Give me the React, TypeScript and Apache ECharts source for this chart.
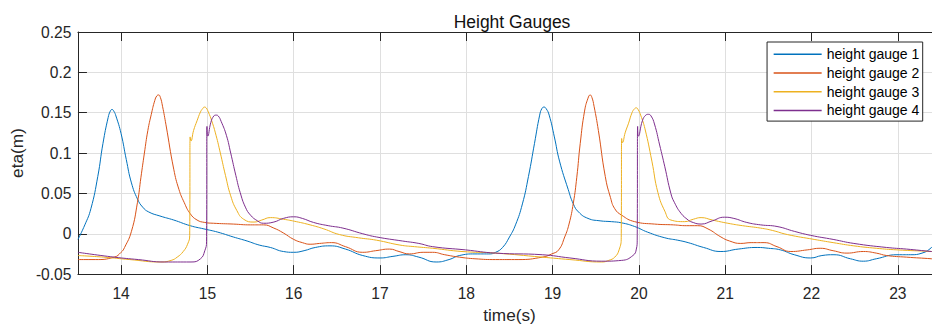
import React, { useEffect, useRef } from "react";
import * as echarts from "echarts";

const xTicks = [14, 15, 16, 17, 18, 19, 20, 21, 22, 23];
const seriesNames = ["height gauge 1", "height gauge 2", "height gauge 3", "height gauge 4"];
const colors = ["#0072BD", "#D95319", "#EDB120", "#7E2F8E"];

const g1T = [13.5, 13.58, 13.65, 13.73, 13.79, 13.85, 13.875, 13.895, 13.915, 13.94, 14.0, 14.06, 14.12, 14.19, 14.25, 14.32, 14.45, 14.61, 14.8, 14.96, 15.12, 15.3, 15.46, 15.6, 15.73, 15.88, 16.0, 16.12, 16.25, 16.42, 16.6, 16.8, 17.0, 17.15, 17.3, 17.45, 17.65, 17.8, 17.92, 18.1, 18.26, 18.34, 18.42, 18.5, 18.57, 18.65, 18.72, 18.79, 18.85, 18.875, 18.9, 18.925, 18.96, 19.02, 19.08, 19.18, 19.24, 19.3, 19.41, 19.55, 19.68, 19.8, 19.95, 20.1, 20.3, 20.45, 20.57, 20.75, 20.95, 21.15, 21.37, 21.5, 21.64, 21.8, 21.99, 22.12, 22.26, 22.45, 22.6, 22.75, 22.99, 23.15, 23.28, 23.39, 23.5];
const g1V = [-0.007, 0.011, 0.031, 0.071, 0.112, 0.144, 0.152, 0.154, 0.152, 0.146, 0.124, 0.092, 0.063, 0.043, 0.033, 0.027, 0.022, 0.017, 0.01, 0.006, 0.002, -0.004, -0.009, -0.014, -0.017, -0.022, -0.023, -0.021, -0.017, -0.015, -0.019, -0.027, -0.03, -0.028, -0.026, -0.029, -0.035, -0.032, -0.027, -0.025, -0.025, -0.023, -0.017, -0.004, 0.011, 0.037, 0.071, 0.112, 0.147, 0.155, 0.157, 0.155, 0.147, 0.12, 0.09, 0.055, 0.037, 0.027, 0.019, 0.016, 0.015, 0.0135, 0.009, 0.002, -0.005, -0.008, -0.011, -0.017, -0.022, -0.019, -0.017, -0.018, -0.02, -0.026, -0.03, -0.027, -0.026, -0.031, -0.034, -0.031, -0.026, -0.026, -0.024, -0.017, -0.004];

const g2T = [13.5, 13.7, 13.92, 14.0, 14.04, 14.12, 14.19, 14.23, 14.27, 14.31, 14.35, 14.39, 14.415, 14.435, 14.455, 14.48, 14.52, 14.61, 14.67, 14.73, 14.8, 14.88, 14.97, 15.07, 15.3, 15.5, 15.65, 15.77, 15.88, 16.0, 16.1, 16.19, 16.3, 16.44, 16.6, 16.8, 16.95, 17.11, 17.22, 17.34, 17.5, 17.61, 17.75, 17.92, 18.1, 18.34, 18.6, 18.88, 18.99, 19.07, 19.14, 19.19, 19.24, 19.28, 19.32, 19.37, 19.41, 19.435, 19.455, 19.48, 19.53, 19.61, 19.67, 19.72, 19.8, 19.95, 20.18, 20.4, 20.55, 20.68, 20.8, 20.95, 21.05, 21.18, 21.3, 21.45, 21.6, 21.76, 21.95, 22.1, 22.25, 22.41, 22.6, 22.75, 22.87, 23.1, 23.39, 23.5];
const g2V = [-0.032, -0.032, -0.029, -0.023, -0.017, 0.003, 0.039, 0.07, 0.1, 0.128, 0.148, 0.165, 0.171, 0.172, 0.169, 0.158, 0.135, 0.08, 0.055, 0.039, 0.025, 0.017, 0.014, 0.013, 0.012, 0.011, 0.011, 0.007, 0.001, -0.007, -0.011, -0.013, -0.012, -0.011, -0.016, -0.023, -0.021, -0.019, -0.022, -0.025, -0.023, -0.023, -0.026, -0.029, -0.031, -0.032, -0.032, -0.029, -0.025, -0.02, -0.004, 0.012, 0.038, 0.07, 0.112, 0.152, 0.168, 0.172, 0.169, 0.158, 0.128, 0.071, 0.045, 0.031, 0.023, 0.015, 0.012, 0.011, 0.01, 0.01, 0.006, -0.004, -0.009, -0.012, -0.011, -0.011, -0.016, -0.022, -0.02, -0.018, -0.021, -0.024, -0.022, -0.024, -0.027, -0.029, -0.031, -0.032];

const g3T = [13.5, 13.8, 14.1, 14.46, 14.58, 14.65, 14.72, 14.77, 14.795, 14.8, 14.81, 14.84, 14.88, 14.92, 14.945, 14.965, 14.985, 15.01, 15.05, 15.1, 15.15, 15.21, 15.27, 15.34, 15.42, 15.54, 15.63, 15.73, 15.88, 16.03, 16.19, 16.35, 16.53, 16.75, 16.96, 17.23, 17.4, 17.61, 17.95, 18.34, 18.88, 19.2, 19.57, 19.65, 19.72, 19.77, 19.795, 19.8, 19.81, 19.84, 19.88, 19.92, 19.95, 19.97, 19.99, 20.02, 20.07, 20.15, 20.22, 20.3, 20.37, 20.53, 20.63, 20.72, 20.85, 21.03, 21.2, 21.41, 21.55, 21.72, 22.03, 22.25, 22.49, 22.75, 22.99, 23.39, 23.5];
const g3V = [-0.027, -0.029, -0.032, -0.035, -0.033, -0.029, -0.022, -0.013, -0.002, 0.12, 0.115, 0.128, 0.14, 0.151, 0.155, 0.157, 0.156, 0.151, 0.14, 0.122, 0.1, 0.072, 0.047, 0.029, 0.018, 0.0145, 0.017, 0.02, 0.018, 0.015, 0.011, 0.006, -0.001, -0.005, -0.008, -0.014, -0.016, -0.018, -0.022, -0.024, -0.029, -0.032, -0.035, -0.033, -0.029, -0.02, -0.005, 0.118, 0.113, 0.125, 0.137, 0.15, 0.155, 0.156, 0.154, 0.147, 0.13, 0.09, 0.051, 0.028, 0.017, 0.015, 0.018, 0.02, 0.017, 0.013, 0.01, 0.007, 0.004, -0.001, -0.007, -0.011, -0.015, -0.018, -0.02, -0.022, -0.023];

const g4T = [13.5, 13.92, 14.2, 14.5, 14.81, 14.92, 14.97, 14.99, 14.995, 15.005, 15.04, 15.075, 15.1, 15.125, 15.16, 15.22, 15.27, 15.33, 15.38, 15.44, 15.5, 15.58, 15.65, 15.77, 15.88, 16.0, 16.1, 16.23, 16.4, 16.57, 16.8, 16.96, 17.26, 17.45, 17.61, 17.99, 18.34, 18.88, 19.2, 19.57, 19.8, 19.93, 19.97, 19.98, 19.985, 19.995, 20.04, 20.08, 20.11, 20.14, 20.18, 20.24, 20.3, 20.37, 20.41, 20.49, 20.57, 20.6, 20.72, 20.85, 20.99, 21.1, 21.25, 21.41, 21.6, 21.8, 21.99, 22.25, 22.49, 22.87, 23.1, 23.39, 23.5];
const g4V = [-0.023, -0.029, -0.032, -0.035, -0.035, -0.031, -0.021, -0.01, 0.133, 0.121, 0.138, 0.146, 0.147, 0.146, 0.139, 0.122, 0.1, 0.072, 0.051, 0.033, 0.023, 0.016, 0.013, 0.0145, 0.019, 0.021, 0.019, 0.014, 0.01, 0.007, 0.0, -0.004, -0.009, -0.012, -0.016, -0.02, -0.024, -0.026, -0.03, -0.034, -0.033, -0.027, -0.019, -0.008, 0.133, 0.121, 0.14, 0.147, 0.148, 0.146, 0.136, 0.11, 0.083, 0.05, 0.039, 0.025, 0.017, 0.015, 0.012, 0.016, 0.0205, 0.019, 0.014, 0.011, 0.009, 0.003, -0.002, -0.007, -0.012, -0.017, -0.019, -0.022, -0.023];

const seriesT = [g1T, g2T, g3T, g4T];
const seriesV = [g1V, g2V, g3V, g4V];

const axisColor = "#262626";
const font = "'Liberation Sans', Arial, Helvetica, sans-serif";

export default function App() {
  const ref = useRef<HTMLDivElement>(null);
  useEffect(() => {
    if (!ref.current) return;
    const chart = echarts.init(ref.current, null, { renderer: "svg" });
    const series = seriesNames.map((name, i) => ({
      name,
      type: "line",
      xAxisIndex: 0,
      yAxisIndex: 0,
      data: seriesT[i].map((t, k) => [t, seriesV[i][k]]),
      symbol: "none",
      showSymbol: false,
      smooth: 0.5,
      lineStyle: { width: 1, color: colors[i] },
      itemStyle: { color: colors[i] },
      clip: true,
    }));
    chart.setOption({
      animation: false,
      textStyle: { fontFamily: font },
      title: {
        text: "Height Gauges",
        left: 507,
        top: 8,
        textAlign: "center",
        textStyle: { fontSize: 17.5, fontWeight: "normal", color: "#111", fontFamily: font },
      },
      legend: {
        orient: "vertical",
        right: 19.3,
        top: 42,
        data: seriesNames,
        icon: "rect",
        itemWidth: 48,
        itemHeight: 1.5,
        itemGap: 4.7,
        padding: [5.3, 3.4, 3.7, 6.6],
        backgroundColor: "#fff",
        borderColor: axisColor,
        borderWidth: 1,
        textStyle: { fontSize: 14, lineHeight: 14, color: "#000", fontFamily: font },
      },
      grid: { left: 73, right: 1, top: 32, bottom: 47, containLabel: false },
      xAxis: [
        {
          type: "value",
          min: 13.5,
          max: 23.5,
          position: "bottom",
          name: "time(s)",
          nameLocation: "middle",
          nameGap: 29,
          nameTextStyle: { fontSize: 17.2, color: axisColor, fontFamily: font },
          axisLine: { show: true, onZero: false, lineStyle: { color: axisColor, width: 1 } },
          axisTick: { show: true, inside: true, length: 9, customValues: xTicks, lineStyle: { color: axisColor } },
          axisLabel: { customValues: xTicks, fontSize: 15.6, color: axisColor, margin: 11, fontFamily: font },
          splitLine: { show: true, lineStyle: { color: "#dfdfdf", width: 1 } },
        },
        {
          type: "value",
          min: 13.5,
          max: 23.5,
          position: "top",
          axisLine: { show: true, onZero: false, lineStyle: { color: axisColor, width: 1 } },
          axisTick: { show: true, inside: true, length: 9, customValues: xTicks, lineStyle: { color: axisColor } },
          axisLabel: { show: false },
          splitLine: { show: false },
        },
      ],
      yAxis: [
        {
          type: "value",
          min: -0.05,
          max: 0.25,
          interval: 0.05,
          name: "eta(m)",
          nameLocation: "middle",
          nameGap: 46,
          nameTextStyle: { fontSize: 17.2, color: axisColor, fontFamily: font },
          axisLine: { show: true, onZero: false, lineStyle: { color: axisColor, width: 1 } },
          axisTick: { show: true, inside: true, length: 9, lineStyle: { color: axisColor } },
          axisLabel: {
            fontSize: 15.6,
            color: axisColor,
            margin: 6.5,
            fontFamily: font,
            formatter: (v: number) => String(parseFloat(v.toFixed(2))),
          },
          splitLine: { show: true, lineStyle: { color: "#dfdfdf", width: 1 } },
        },
      ],
      series,
    });
    return () => chart.dispose();
  }, []);
  return (
    <div style={{ position: "absolute", left: 0, top: 0, width: 932, height: 328, overflow: "hidden", background: "#fff" }}>
      <div ref={ref} style={{ width: 942, height: 328 }} />
    </div>
  );
}
